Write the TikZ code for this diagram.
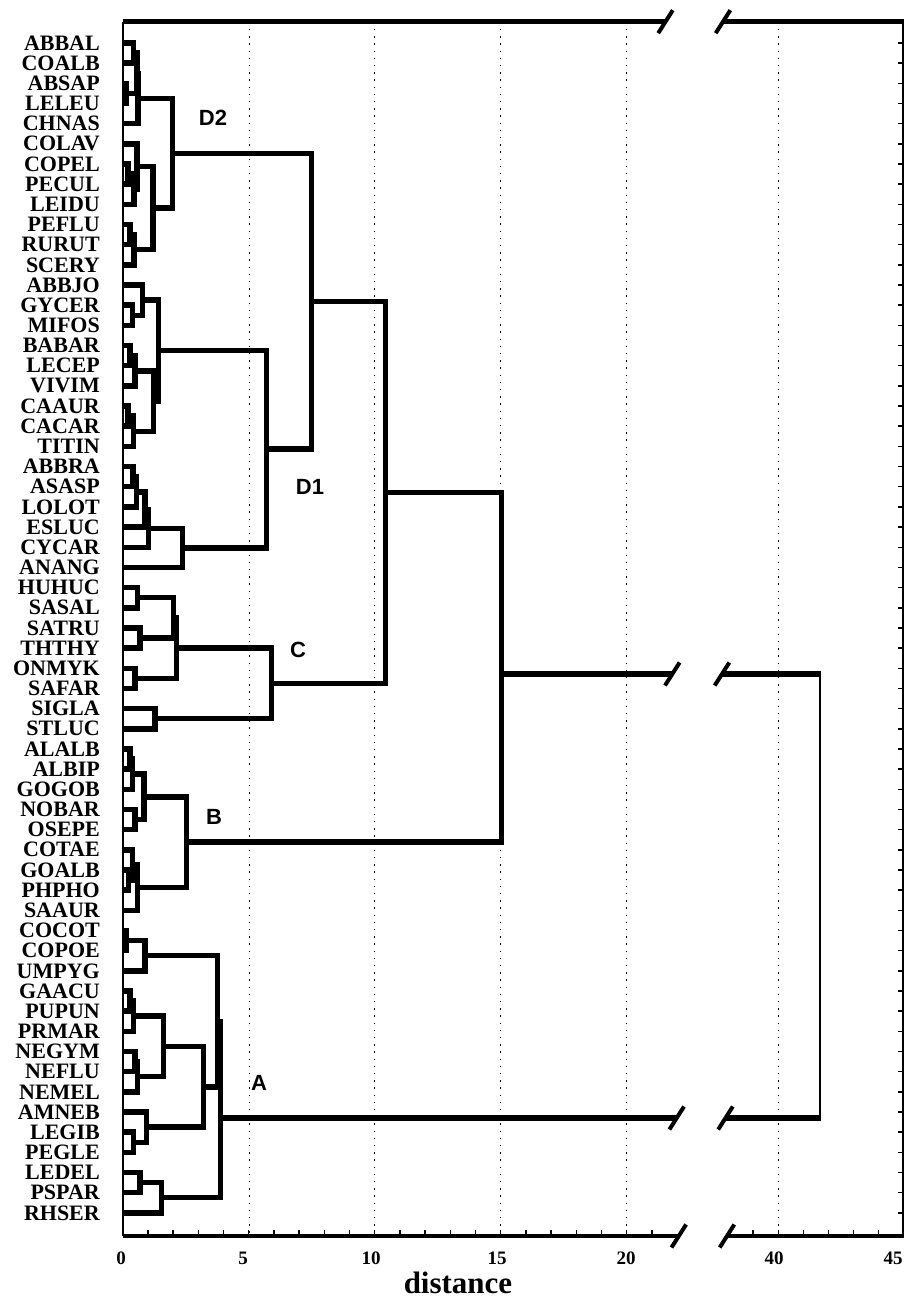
\documentclass[tikz,border=0pt]{standalone}
\usepackage{fontspec}
\setmainfont{Liberation Serif}
\newfontfamily\lsans{Liberation Sans}
\usetikzlibrary{calc}
\tikzset{
  br/.style={line width=5.5pt, line join=miter},
  ax/.style={line width=4.5pt},
  thinax/.style={line width=1.6pt},
  tk/.style={line width=1.5pt},
  gridl/.style={line width=1.4pt, dash pattern=on 1.4pt off 5.8pt},
  lbl/.style={font=\fontsize{22}{22}\selectfont\bfseries, inner sep=0pt, anchor=east},
  num/.style={font=\fontsize{19}{19}\selectfont\bfseries, inner sep=0pt},
  ttl/.style={font=\fontsize{31}{31}\selectfont\bfseries, inner sep=0pt},
  grp/.style={font=\lsans\fontsize{22}{22}\selectfont\bfseries, inner sep=0pt},
  brk/.pic={\draw[line width=4pt] (-7.3,-11.5) -- (7.3,11.5);}
}
\newcommand\dmerge[4]{%
  \path let \p1=(#3), \p2=(#4) in coordinate (#1) at (#2,{0.5*\y1+0.5*\y2});
  \draw[br] (#3) -- (#1 |- #3) -- (#1 |- #4) -- (#4);}
\newcommand\dmergey[5]{%
  \coordinate (#1) at (#2,#3);
  \draw[br] (#4) -- (#1 |- #4) -- (#1 |- #5) -- (#5);}
\begin{document}
\begin{tikzpicture}[x=1pt,y=1pt]
\fill[white] (0,0) rectangle (910,-1299);
\useasboundingbox (0,0) rectangle (910,-1299);
% grid
\foreach \gx in {249.3,374.7,500.7,626.7,778.3}
  \draw[gridl] (\gx,-21.7) -- (\gx,-1236);
% leaves
\foreach \nm [count=\i] in {ABBAL,COALB,ABSAP,LELEU,CHNAS,COLAV,COPEL,PECUL,LEIDU,PEFLU,RURUT,SCERY,ABBJO,GYCER,MIFOS,BABAR,LECEP,VIVIM,CAAUR,CACAR,TITIN,ABBRA,ASASP,LOLOT,ESLUC,CYCAR,ANANG,HUHUC,SASAL,SATRU,THTHY,ONMYK,SAFAR,SIGLA,STLUC,ALALB,ALBIP,GOGOB,NOBAR,OSEPE,COTAE,GOALB,PHPHO,SAAUR,COCOT,COPOE,UMPYG,GAACU,PUPUN,PRMAR,NEGYM,NEFLU,NEMEL,AMNEB,LEGIB,PEGLE,LEDEL,PSPAR,RHSER}{
  \pgfmathsetmacro\yy{-(43+(\i-1)*20.17)}
  \node[lbl] (t\i) at (100,\yy) {\nm};
  \coordinate (L\i) at (122.7,\yy);
  \draw[tk] (903,\yy) -- ++(-5,0);
}
% D2
\dmerge{n12}{133.5}{L1}{L2}
\dmerge{n34}{126.5}{L3}{L4}
\dmerge{n1234}{137}{n12}{n34}
\dmerge{n1t5}{138}{n1234}{L5}
\dmerge{n78}{128}{L7}{L8}
\dmerge{n789}{134}{n78}{L9}
\dmerge{n6t9}{137}{L6}{n789}
\dmerge{n1011}{130}{L10}{L11}
\dmerge{n10t12}{134}{n1011}{L12}
\dmerge{n6t12}{153}{n6t9}{n10t12}
\dmerge{cD2}{172.5}{n1t5}{n6t12}
% D1
\dmerge{n1415}{132.7}{L14}{L15}
\dmerge{n13t15}{142.7}{L13}{n1415}
\dmerge{n1617}{130}{L16}{L17}
\dmerge{n16t18}{135}{n1617}{L18}
\dmerge{n1920}{128}{L19}{L20}
\dmerge{n19t21}{133.3}{n1920}{L21}
\dmerge{n16t21}{153.3}{n16t18}{n19t21}
\dmerge{n13t21}{158.3}{n13t15}{n16t21}
\dmerge{n2223}{133}{L22}{L23}
\dmerge{n22t24}{136.7}{n2223}{L24}
\dmerge{n22t25}{145}{n22t24}{L25}
\dmerge{n22t26}{148.3}{n22t25}{L26}
\dmerge{n22t27}{182.7}{n22t26}{L27}
\dmerge{cD1}{266.7}{n13t21}{n22t27}
\dmerge{cD}{311.5}{cD2}{cD1}
% C
\dmerge{n2829}{137.3}{L28}{L29}
\dmerge{n3031}{140}{L30}{L31}
\dmerge{n28t31}{173.3}{n2829}{n3031}
\dmerge{n3233}{135}{L32}{L33}
\dmerge{n28t33}{176.7}{n28t31}{n3233}
\dmerge{n3435}{155}{L34}{L35}
\dmerge{cC}{271.7}{n28t33}{n3435}
\dmerge{cDC}{385.5}{cD}{cC}
% B
\dmerge{n3637}{130}{L36}{L37}
\dmerge{n36t38}{132.7}{n3637}{L38}
\dmerge{n3940}{135}{L39}{L40}
\dmerge{n36t40}{144}{n36t38}{n3940}
\dmerge{n4243}{128.3}{L42}{L43}
\dmerge{n41t43}{132.7}{L41}{n4243}
\dmerge{n41t44}{137.3}{n41t43}{L44}
\dmerge{cB}{186.7}{n36t40}{n41t44}
\dmergey{cDCB}{501.7}{-674}{cDC}{cB}
% A
\dmerge{n4546}{126.7}{L45}{L46}
\dmerge{n45t47}{145}{n4546}{L47}
\dmerge{n4849}{130}{L48}{L49}
\dmerge{n48t50}{133.3}{n4849}{L50}
\dmerge{n5152}{135}{L51}{L52}
\dmerge{n51t53}{137.3}{n5152}{L53}
\dmerge{n48t53}{163.3}{n48t50}{n51t53}
\dmerge{n5556}{133.3}{L55}{L56}
\dmerge{n54t56}{146.7}{L54}{n5556}
\dmerge{n48t56}{203.3}{n48t53}{n54t56}
\dmerge{n45t56}{217.3}{n45t47}{n48t56}
\dmerge{n5758}{140}{L57}{L58}
\dmerge{n57t59}{161.7}{n5758}{L59}
\dmergey{cA}{220.7}{-1118}{n45t56}{n57t59}
% root with breaks
\coordinate (rt) at (820,-674);
\coordinate (rA) at (820,-1118);
\coordinate (b1l) at (672.3,-674);
\coordinate (b1r) at (722,-674);
\coordinate (b2l) at (676.7,-1118);
\coordinate (b2r) at (725.5,-1118);
\draw[br] (cDCB) -- (b1l);
\draw[br] (b1r) -- ([xshift=1pt]rt);
\draw[br] (cA) -- (b2l);
\draw[br] (b2r) -- ([xshift=1pt]rA);
\draw[line width=2.5pt] (rt) -- (rA);
\pic at (b1l) {brk}; \pic at (b1r) {brk};
\pic at (b2l) {brk}; \pic at (b2r) {brk};
% frame
\coordinate (tl) at (122.7,-21.7);
\coordinate (tr) at (903,-21.7);
\coordinate (bl) at (122.7,-1236);
\coordinate (bre) at (903,-1236);
\coordinate (tb1) at (665.5,-21.7);
\coordinate (tb2) at (723,-21.7);
\coordinate (bb1) at (678.8,-1236);
\coordinate (bb2) at (727,-1236);
\draw[thinax] (tl) -- (bl);
\draw[line width=2.5pt] ([yshift=2pt]tr) -- ([yshift=-2pt]bre);
\draw[ax] (tl) -- (tb1); \draw[ax] (tb2) -- ([xshift=1.2pt]tr);
\draw[ax] (bl) -- (bb1); \draw[ax] (bb2) -- ([xshift=1.2pt]bre);
\pic at (tb1) {brk}; \pic at (tb2) {brk};
\pic at (bb1) {brk}; \pic at (bb2) {brk};
\foreach \v in {1,...,21} \draw[tk] (122.7+25.2*\v,-1236) -- ++(0,6);
\foreach \v in {39,...,44} \draw[tk] (778.3+25.1*\v-25.1*40,-1236) -- ++(0,6);
% axis numbers
\node[num] (x0) at (121,-1258) {0};
\node[num] (x5) at (243,-1258) {5};
\node[num] (x10) at (371,-1258) {10};
\node[num] (x15) at (497,-1258) {15};
\node[num] (x20) at (626,-1258) {20};
\node[num] (x40) at (774,-1258) {40};
\node[num] (x45) at (893,-1258) {45};
\node[ttl] (xt) at (458,-1283) {distance};
% group labels
\node[grp] (gD2) at (213,-118) {D2};
\node[grp] (gD1) at (310,-487) {D1};
\node[grp] (gC) at (298,-650) {C};
\node[grp] (gB) at (214,-817) {B};
\node[grp] (gA) at (259,-1083) {A};
\end{tikzpicture}
\end{document}
